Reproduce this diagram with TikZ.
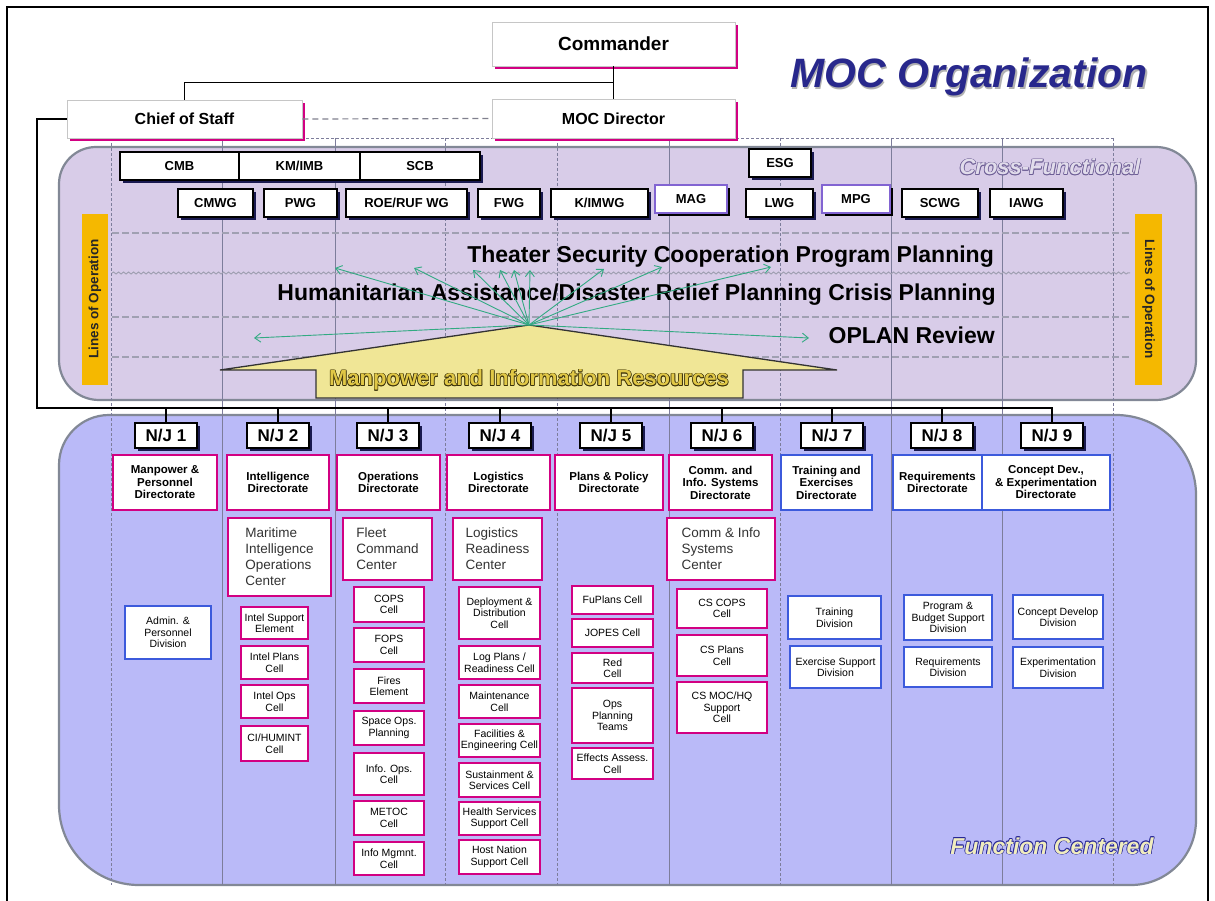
\documentclass[tikz,border=0pt]{standalone}
\usepackage{fontspec}
\setmainfont{Liberation Sans}
\usetikzlibrary{shadows,arrows.meta,decorations.pathmorphing}
\definecolor{magC}{RGB}{210,0,130}
\definecolor{navyC}{RGB}{25,25,80}
\definecolor{bluC}{RGB}{60,90,220}
\definecolor{lavC}{RGB}{216,204,232}
\definecolor{periC}{RGB}{186,186,248}
\definecolor{panelB}{RGB}{130,136,150}
\definecolor{colL}{RGB}{125,125,155}
\definecolor{dashC}{RGB}{160,160,178}
\definecolor{orC}{RGB}{245,184,0}
\definecolor{grnC}{RGB}{50,170,130}
\definecolor{yelC}{RGB}{240,230,150}
\definecolor{titleC}{RGB}{40,40,140}
\definecolor{purC}{RGB}{130,100,210}
\definecolor{xfOut}{RGB}{110,95,150}
\definecolor{xfIn}{RGB}{225,220,235}
\definecolor{fcOut}{RGB}{40,40,150}
\definecolor{fcIn}{RGB}{240,236,190}
\definecolor{mirOut}{RGB}{60,50,10}
\definecolor{mirIn}{RGB}{225,200,70}
\newcommand{\fsz}[2]{\fontsize{#1pt}{#2pt}\selectfont}
\newcommand{\mybox}[7]{\node[#1,minimum width={(#5-#3)*1pt},minimum height={(#6-#4)*1pt}] (#2) at ({(#3+#5)/2},{(#4+#6)/2}) {#7};}
\newcommand{\oc}[4]{\makebox[0pt][l]{\color{#1}\hspace*{#2}\raisebox{#3}{#4}}}
\newcommand{\outlinetext}[4]{%
 \oc{#1}{-#3}{0pt}{#4}\oc{#1}{#3}{0pt}{#4}\oc{#1}{0pt}{#3}{#4}\oc{#1}{0pt}{-#3}{#4}%
 \oc{#1}{-#3}{#3}{#4}\oc{#1}{#3}{#3}{#4}\oc{#1}{-#3}{-#3}{#4}\oc{#1}{#3}{-#3}{#4}%
 {\color{#2}#4}}
\newcommand{\shadowtext}[3]{\oc{#1}{1.6pt}{-1.6pt}{#3}{\color{#2}#3}}
\tikzset{
 base/.style={inner sep=1pt, align=center, font=\fsz{11}{12}},
 topbox/.style={base, fill=white, draw=gray!45, line width=0.8pt,
   drop shadow={shadow xshift=3pt, shadow yshift=-3pt, fill=magC, opacity=1},
   font=\bfseries\fsz{16}{18}},
 board/.style={base, fill=white, draw=black, line width=1.8pt,
   drop shadow={shadow xshift=3pt, shadow yshift=-3pt, fill=navyC, opacity=1},
   font=\bfseries\fsz{13}{14}},
 pboard/.style={base, fill=white, draw=purC, line width=1.2pt,
   drop shadow={shadow xshift=3pt, shadow yshift=-3pt, fill=black, opacity=1},
   font=\bfseries\fsz{13}{14}},
 njbox/.style={board, font=\bfseries\fsz{17}{18}},
 dirM/.style={base, fill=white, draw=magC, line width=2pt, font=\bfseries\fsz{11.5}{12.5}},
 dirB/.style={dirM, draw=bluC},
 ctr/.style={base, fill=white, draw=magC, line width=2.2pt, align=left, text=black!80, font=\fsz{13.5}{16}},
 cellM/.style={base, fill=white, draw=magC, line width=2pt, font=\fsz{10.5}{11.5}},
 cellB/.style={cellM, draw=bluC},
 orgline/.style={line width=1.5pt, black},
 colsolid/.style={colL, line width=0.6pt},
 coldash/.style={colL, line width=0.6pt, dash pattern=on 3pt off 2pt},
 lodash/.style={dashC, line width=1.6pt, dash pattern=on 7pt off 3pt},
 lowave/.style={dashC, line width=1pt, decorate, decoration={snake, amplitude=1pt, segment length=5pt}},
 garrow/.style={grnC, line width=0.9pt, -{Straight Barb[length=6pt,width=9pt]}},
 mainline/.style={font=\bfseries\fsz{23}{23}, inner sep=0pt},
 bar/.style={fill=orC, draw=none},
 bartext/.style={font=\bfseries\fsz{13.5}{14}, text=black!85, inner sep=0pt},
}
\begin{document}
\begin{tikzpicture}[x=1pt,y=-1pt]
\useasboundingbox (0,0) rectangle (1215,901);
\fill[white] (0,0) rectangle (1215,901);
% frame
\draw[line width=1.2pt] (7,901) -- (7,7) -- (1208,7) -- (1208,901);

% panels
\path[fill=lavC, draw=panelB, line width=2.2pt]
 (59,184) .. controls (59,163.6) and (75.6,147) .. (96,147) -- (1156,147)
 .. controls (1178.1,147) and (1196,164.9) .. (1196,187) -- (1196,360)
 .. controls (1196,382.1) and (1178.1,400) .. (1156,400) -- (99,400)
 .. controls (76.9,400) and (59,382.1) .. (59,360) -- cycle;
\path[fill=periC, draw=panelB, line width=2.2pt]
 (59,465) .. controls (59,437.4) and (81.4,415) .. (109,415) -- (1116,415)
 .. controls (1160.2,415) and (1196,450.8) .. (1196,495) -- (1196,820)
 .. controls (1196,855.9) and (1166.9,885) .. (1131,885) -- (139,885)
 .. controls (94.8,885) and (59,849.2) .. (59,805) -- cycle;

% column lines
\draw[coldash] (111,138) -- (1113,138);
\foreach \x in {111,445,557,780,1113} \draw[coldash] (\x,138) -- (\x,885);
\foreach \x in {222,335,669,891,1002} \draw[colsolid] (\x,138) -- (\x,885);

% lines of operation
\draw[lodash] (112,233) -- (1130,233);
\draw[lowave] (112,273) -- (1130,273);
\draw[lodash] (112,317) -- (1130,317);
\draw[lodash] (112,357) -- (1130,357);

\fill[bar] (82,214) rectangle (108,385);
\fill[bar] (1135,214) rectangle (1162,385);
\node[bartext, rotate=90] (lol) at (95,299) {Lines of Operation};
\node[bartext, rotate=-90] (lor) at (1148.5,299) {Lines of Operation};

% resources pyramid
\path[fill=yelC, draw=black!80, line width=1.3pt]
 (220,370) -- (529,325) -- (837,370) -- (743,370) -- (743,398) -- (316,398) -- (316,370) -- cycle;
\node[font=\bfseries\fsz{22}{22}, inner sep=0pt] (mir) at (529,380)
 {\outlinetext{mirOut}{mirIn}{0.6pt}{Manpower and Information Resources}};

% texts
\node[mainline, anchor=base east] (tscp) at (994,263) {Theater Security Cooperation Program Planning};
\node[mainline, anchor=base east] (hadr) at (996,301) {Humanitarian Assistance/Disaster Relief Planning Crisis Planning};
\node[mainline, anchor=base east] (oplan) at (995,343) {OPLAN Review};

% arrows
\coordinate (apex) at (529,325);
\coordinate (t1) at (335,268);
\coordinate (t2) at (414,268);
\coordinate (t3) at (473,270);
\coordinate (t4) at (500,270);
\coordinate (t5) at (514,270);
\coordinate (t6) at (530,270);
\coordinate (t7) at (604,269);
\coordinate (t8) at (662,267);
\coordinate (t9) at (771,267);
\coordinate (tl) at (254,338);
\coordinate (tr) at (809,338);
\foreach \t in {t1,t2,t3,t4,t5,t6,t7,t8,t9,tl,tr} \draw[garrow] (apex) -- (\t);

% title and labels
\node[font=\bfseries\itshape\fsz{41}{41}, inner sep=0pt] (title) at (969,78) {\shadowtext{gray!60}{titleC}{MOC Organization}};
\node[font=\bfseries\itshape\fsz{22}{22}, inner sep=0pt] (xf) at (1050,167)
 {\outlinetext{xfOut}{xfIn}{0.6pt}{Cross-Functional}};
\node[font=\bfseries\itshape\fsz{23}{23}, inner sep=0pt] (fc) at (1052,846)
 {\outlinetext{fcOut}{fcIn}{0.6pt}{Function Centered}};

% top boxes
\mybox{topbox,font=\bfseries\fsz{19}{20}}{cmd}{492}{22}{735}{66}{Commander}
\mybox{topbox}{cos}{67}{100}{302}{138}{Chief of Staff}
\mybox{topbox}{mocd}{492}{99}{735}{138}{MOC Director}

\draw[orgline] (cos.north) -- ++(0,-17) -| (cmd.south);
\draw[orgline] (cmd.south) -- (mocd.north);
\draw[dashC!80!black, line width=1.2pt, dash pattern=on 6pt off 4pt] (cos.east) -- (mocd.west);

% boards and working groups
\mybox{board}{cmb}{120}{152}{239}{180}{CMB}
\mybox{board}{kmimb}{239}{152}{360}{180}{KM/IMB}
\mybox{board}{scb}{360}{152}{480}{180}{SCB}
\mybox{board}{esg}{749}{149}{811}{177}{ESG}
\mybox{board}{cmwg}{178}{189}{253}{217}{CMWG}
\mybox{board}{pwg}{264}{189}{337}{217}{PWG}
\mybox{board}{roe}{346}{189}{467}{217}{ROE/RUF WG}
\mybox{board}{fwg}{478}{189}{540}{217}{FWG}
\mybox{board}{kimwg}{551}{189}{648}{217}{K/IMWG}
\mybox{pboard}{mag}{655}{185}{727}{213}{MAG}
\mybox{board}{lwg}{746}{189}{813}{217}{LWG}
\mybox{pboard}{mpg}{822}{185}{890}{213}{MPG}
\mybox{board}{scwg}{902}{189}{978}{217}{SCWG}
\mybox{board}{iawg}{990}{189}{1063}{217}{IAWG}

% N/J boxes
\mybox{njbox}{nj1}{135}{423}{197}{448}{N/J 1}
\mybox{njbox}{nj2}{247}{423}{309}{448}{N/J 2}
\mybox{njbox}{nj3}{357}{423}{419}{448}{N/J 3}
\mybox{njbox}{nj4}{469}{423}{531}{448}{N/J 4}
\mybox{njbox}{nj5}{580}{423}{642}{448}{N/J 5}
\mybox{njbox}{nj6}{691}{423}{753}{448}{N/J 6}
\mybox{njbox}{nj7}{801}{423}{863}{448}{N/J 7}
\mybox{njbox}{nj8}{911}{423}{973}{448}{N/J 8}
\mybox{njbox}{nj9}{1021}{423}{1083}{448}{N/J 9}

\coordinate (bus) at (37,408);
\draw[orgline] (cos.west) -| (bus) -- (nj9.north |- bus) -- (nj9.north);
\foreach \n in {nj1,nj2,nj3,nj4,nj5,nj6,nj7,nj8} \draw[orgline] (\n.north |- bus) -- (\n.north);

% directorates
\mybox{dirM}{d1}{113}{455}{217}{510}{Manpower \&\\Personnel\\Directorate}
\mybox{dirM}{d2}{227}{455}{329}{510}{Intelligence\\Directorate}
\mybox{dirM}{d3}{337}{455}{440}{510}{Operations\\Directorate}
\mybox{dirM}{d4}{447}{455}{550}{510}{Logistics\\Directorate}
\mybox{dirM}{d5}{555}{455}{663}{510}{Plans \& Policy\\Directorate}
\mybox{dirM}{d6}{669}{455}{772}{510}{Comm. and\\Info. Systems\\Directorate}
\mybox{dirB}{d7}{781}{455}{872}{510}{Training and\\Exercises\\Directorate}
\mybox{dirB}{d8}{893}{455}{982}{510}{Requirements\\Directorate}
\mybox{dirB}{d9}{982}{455}{1110}{510}{Concept Dev.,\\\& Experimentation\\Directorate}

% centers
\mybox{ctr}{c2}{228}{518}{331}{596}{Maritime\\Intelligence\\Operations\\Center}
\mybox{ctr}{c3}{343}{518}{432}{580}{Fleet\\Command\\Center}
\mybox{ctr}{c4}{453}{518}{542}{580}{Logistics\\Readiness\\Center}
\mybox{ctr}{c6}{667}{518}{775}{580}{Comm \& Info\\Systems\\Center}

% N/J1
\mybox{cellB}{admin}{125}{606}{211}{659}{Admin. \&\\Personnel\\Division}
% N/J2
\mybox{cellM}{isupp}{241}{607}{308}{639}{Intel Support\\Element}
\mybox{cellM}{iplans}{241}{646}{308}{679}{Intel Plans\\Cell}
\mybox{cellM}{iops}{241}{685}{308}{718}{Intel Ops\\Cell}
\mybox{cellM}{ci}{241}{726}{308}{761}{CI/HUMINT\\Cell}
% N/J3
\mybox{cellM}{cops}{354}{587}{424}{622}{COPS\\Cell}
\mybox{cellM}{fops}{354}{628}{424}{662}{FOPS\\Cell}
\mybox{cellM}{fires}{354}{669}{424}{703}{Fires\\Element}
\mybox{cellM}{space}{354}{711}{424}{745}{Space Ops.\\Planning}
\mybox{cellM}{infoops}{354}{753}{424}{795}{Info. Ops.\\Cell}
\mybox{cellM}{metoc}{354}{801}{424}{835}{METOC\\Cell}
\mybox{cellM}{infom}{354}{842}{424}{875}{Info Mgmnt.\\Cell}
% N/J4
\mybox{cellM}{dep}{459}{587}{540}{639}{Deployment \&\\Distribution\\Cell}
\mybox{cellM}{logp}{459}{646}{540}{679}{Log Plans /\\Readiness Cell}
\mybox{cellM}{maint}{459}{685}{540}{718}{Maintenance\\Cell}
\mybox{cellM}{fac}{459}{724}{540}{757}{Facilities \&\\Engineering Cell}
\mybox{cellM}{sus}{459}{763}{540}{797}{Sustainment \&\\Services Cell}
\mybox{cellM}{hss}{459}{802}{540}{835}{Health Services\\Support Cell}
\mybox{cellM}{hns}{459}{840}{540}{874}{Host Nation\\Support Cell}
% N/J5
\mybox{cellM}{fup}{572}{586}{653}{614}{FuPlans Cell}
\mybox{cellM}{jopes}{572}{619}{653}{647}{JOPES Cell}
\mybox{cellM}{red}{572}{653}{653}{683}{Red\\Cell}
\mybox{cellM}{opt}{572}{688}{653}{743}{Ops\\Planning\\Teams}
\mybox{cellM}{eff}{572}{748}{653}{779}{Effects Assess.\\Cell}
% N/J6
\mybox{cellM}{cscops}{677}{589}{767}{628}{CS COPS\\Cell}
\mybox{cellM}{csplans}{677}{635}{767}{676}{CS Plans\\Cell}
\mybox{cellM}{csmoc}{677}{682}{767}{733}{CS MOC/HQ\\Support\\Cell}
% N/J7-9
\mybox{cellB}{trd}{788}{596}{881}{639}{Training\\Division}
\mybox{cellB}{exs}{790}{646}{881}{688}{Exercise Support\\Division}
\mybox{cellB}{pbs}{904}{595}{992}{640}{Program \&\\Budget Support\\Division}
\mybox{cellB}{reqd}{904}{647}{992}{687}{Requirements\\Division}
\mybox{cellB}{cdd}{1013}{595}{1103}{639}{Concept Develop\\Division}
\mybox{cellB}{expd}{1013}{647}{1103}{688}{Experimentation\\Division}
\end{tikzpicture}
\end{document}
